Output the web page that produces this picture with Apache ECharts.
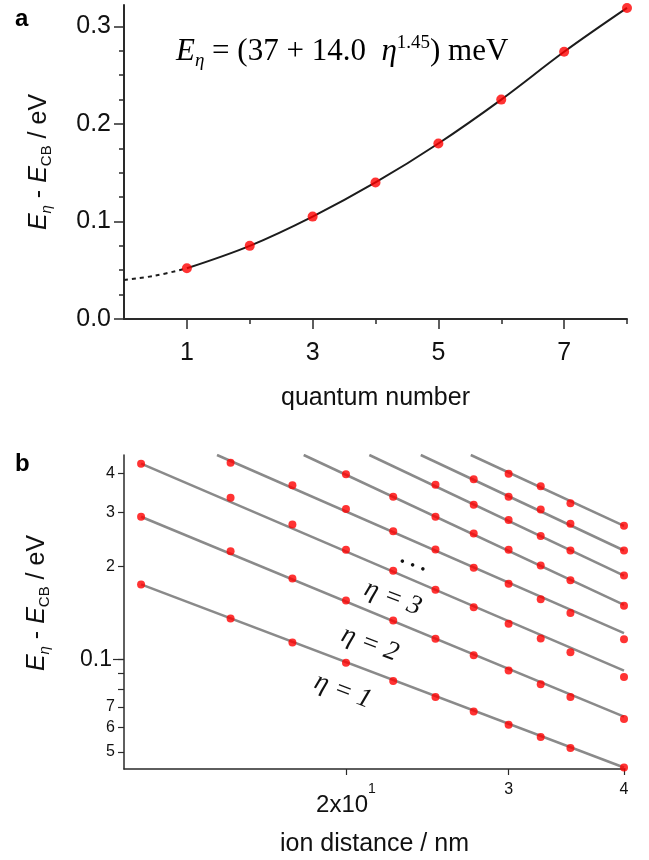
<!DOCTYPE html>
<html><head><meta charset="utf-8">
<script src="https://cdn.jsdelivr.net/npm/echarts@6/dist/echarts.min.js"></script>
<style>html,body{margin:0;padding:0;background:#fff}#c{width:649px;height:860px}</style>
</head><body><div id="c"></div>
<script>
// ---------- Panel a data ----------
const quantumNumbers = [1, 2, 3, 4, 5, 6, 7, 8];
const levelEnergies = [0.052, 0.075, 0.105, 0.140, 0.180, 0.225, 0.274, 0.319];
const extrapX = [0, 0.5, 1];
const extrapY = [0.040, 0.0445, 0.052];
const aXLabelTicks = [1, 3, 5, 7];
const aXMinorTicks = [2, 4, 6, 8];
const aYLabelTicks = [0, 0.1, 0.2, 0.3];
const aYMinorTicks = [0.025, 0.05, 0.075, 0.125, 0.15, 0.175, 0.225, 0.25, 0.275];

// ---------- Panel b data ----------
const distances = [12, 15, 17.5, 20, 22.5, 25, 27.5, 30, 32.5, 35, 40];
const eta1 = [0.1747, 0.1354, 0.1132, 0.0973, 0.0850, 0.0754, 0.0676, 0.0612, 0.0559, 0.0515, 0.0445];
const eta2 = [0.290, 0.224, 0.1827, 0.155, 0.1335, 0.1164, 0.1030, 0.0918, 0.0829, 0.0754, 0.0639];
const eta3 = [0.431, 0.334, 0.2735, 0.2264, 0.1935, 0.1679, 0.1475, 0.1302, 0.1166, 0.1054, 0.0876];
const eta4 = [null, 0.434, 0.367, 0.307, 0.260, 0.227, 0.198, 0.1756, 0.1566, 0.1411, 0.1161];
const eta5 = [null, null, null, 0.398, 0.337, 0.290, 0.256, 0.2264, 0.2013, 0.1805, 0.149];
const eta6 = [null, null, null, null, null, 0.368, 0.317, 0.283, 0.251, 0.2253, 0.1868];
const eta7 = [null, null, null, null, null, null, 0.384, 0.337, 0.306, 0.275, 0.2253];
const eta8 = [null, null, null, null, null, null, null, 0.400, 0.3645, 0.321, 0.271];
const etaSeries = [eta1, eta2, eta3, eta4, eta5, eta6, eta7, eta8];
// fitted power-law lines (start where visible, end at 40 nm)
const fitStartX = [12, 12, 12, 14.5, 18.0, 21.2, 24.1, 27.3];
const fitStartY = [0.175, 0.290, 0.431, 0.46, 0.46, 0.46, 0.46, 0.46];
const fitEndX = [40, 40, 40, 40, 40, 40, 40, 40];
const fitEndY = [0.0445, 0.0651, 0.0918, 0.1214, 0.150, 0.1868, 0.2253, 0.271];
const bYTicks = [0.05, 0.06, 0.07, 0.08, 0.09, 0.1, 0.2, 0.3, 0.4];
const bYLabels = [0.05, 0.06, 0.07, 0.1, 0.2, 0.3, 0.4];
const bYLongTick = [0.1];
const bXTicks = [20, 30, 40];

const SANS = "'Liberation Sans', Arial, Helvetica, sans-serif";
const SERIF = "'Liberation Serif', 'Times New Roman', serif";
const AX = '#2a2a2a';

const chart = echarts.init(document.getElementById('c'), null, {renderer: 'canvas'});

const yNameRich = {
  i: {fontFamily: SANS, fontStyle: 'italic', fontSize: 25, lineHeight: 30, color: '#111'},
  n: {fontFamily: SANS, fontSize: 25, lineHeight: 30, color: '#111'},
  s: {fontFamily: SANS, fontStyle: 'italic', fontSize: 15, lineHeight: 13, verticalAlign: 'bottom', color: '#111'},
  s2: {fontFamily: SANS, fontSize: 15, lineHeight: 13, verticalAlign: 'bottom', color: '#111'}
};
const yNameText = '{i|E}{s|η}{n| - }{i|E}{s2|CB}{n| / eV}';

const bDots = [];
etaSeries.forEach(arr => arr.forEach((v, i) => { if (v != null) bDots.push([distances[i], v]); }));

const series = [
  {type: 'line', xAxisIndex: 0, yAxisIndex: 0, data: extrapX.map((x, i) => [x, extrapY[i]]),
   smooth: 0.4, showSymbol: false, lineStyle: {color: '#1c1c1c', width: 2, type: [4, 4]}, z: 2},
  {type: 'line', xAxisIndex: 0, yAxisIndex: 0, data: quantumNumbers.map((x, i) => [x, levelEnergies[i]]),
   smooth: 0.35, showSymbol: false, lineStyle: {color: '#1c1c1c', width: 2}, z: 2},
  {type: 'scatter', xAxisIndex: 0, yAxisIndex: 0, data: quantumNumbers.map((x, i) => [x, levelEnergies[i]]),
   symbolSize: 10, itemStyle: {color: '#ff0000'}, z: 3, clip: false}
];
for (let k = 0; k < 8; k++) {
  series.push({type: 'line', xAxisIndex: 2, yAxisIndex: 1,
    data: [[fitStartX[k], fitStartY[k]], [fitEndX[k], fitEndY[k]]],
    showSymbol: false, lineStyle: {color: '#8a8a8a', width: 2.5}, z: 2});
}
series.push({type: 'scatter', xAxisIndex: 2, yAxisIndex: 1, data: bDots,
  symbolSize: 8, itemStyle: {color: '#ff0000'}, z: 3, clip: false});

const option = {
  animation: false,
  backgroundColor: '#fff',
  grid: [
    {left: 124, top: 5, width: 503, height: 314},
    {left: 124, top: 455, width: 501, height: 314}
  ],
  xAxis: [
    {gridIndex: 0, type: 'value', min: 0, max: 8, interval: 1, position: 'bottom',
     axisLine: {show: true, lineStyle: {color: AX, width: 2}},
     axisTick: {show: true, customValues: aXLabelTicks, length: 10, lineStyle: {color: AX, width: 1.5}},
     axisLabel: {customValues: aXLabelTicks, fontFamily: SANS, fontSize: 25, color: '#111', margin: 22},
     splitLine: {show: false},
     name: 'quantum number', nameLocation: 'middle', nameGap: 67,
     nameTextStyle: {fontFamily: SANS, fontSize: 25, color: '#111'}},
    {gridIndex: 0, type: 'value', min: 0, max: 8, interval: 1, position: 'bottom',
     axisLine: {show: false}, axisLabel: {show: false}, splitLine: {show: false},
     axisTick: {show: true, customValues: aXMinorTicks, length: 5, lineStyle: {color: AX, width: 1.5}}},
    {gridIndex: 1, type: 'log', logBase: 10, min: 11.5, max: 40.1, position: 'bottom',
     axisLine: {show: true, lineStyle: {color: AX, width: 1.5}},
     axisTick: {show: true, customValues: bXTicks, length: 6, lineStyle: {color: AX, width: 1.2}},
     axisLabel: {customValues: bXTicks, margin: 13, color: '#111',
       formatter: v => Math.abs(v - 20) < 1e-6 ? '{big|2x10}{sup|1}' : '{s|' + Math.round(v / 10) + '}',
       rich: {
         big: {fontFamily: SANS, fontSize: 24, lineHeight: 46, color: '#111'},
         sup: {fontFamily: SANS, fontSize: 14, lineHeight: 14, verticalAlign: 'top', color: '#111'},
         s: {fontFamily: SANS, fontSize: 16, lineHeight: 16, verticalAlign: 'top', color: '#111'}
       }},
     splitLine: {show: false}, minorTick: {show: false},
     name: 'ion distance / nm', nameLocation: 'middle', nameGap: 63,
     nameTextStyle: {fontFamily: SANS, fontSize: 25, color: '#111'}}
  ],
  yAxis: [
    {gridIndex: 0, type: 'value', min: 0, max: 0.322, interval: 0.1, position: 'left',
     axisLine: {show: true, lineStyle: {color: AX, width: 2}},
     axisTick: {show: true, customValues: aYLabelTicks, length: 10, lineStyle: {color: AX, width: 1.5}},
     axisLabel: {customValues: aYLabelTicks, formatter: v => v.toFixed(1), fontFamily: SANS, fontSize: 25, color: '#111', margin: 13},
     splitLine: {show: false},
     name: yNameText, nameLocation: 'middle', nameGap: 70, nameRotate: 90,
     nameTextStyle: {rich: yNameRich}},
    {gridIndex: 1, type: 'log', logBase: 10, min: 0.044, max: 0.46, position: 'left',
     axisLine: {show: true, lineStyle: {color: AX, width: 1.5}},
     axisTick: {show: true, customValues: bYTicks, length: 6, lineStyle: {color: AX, width: 1.2}},
     axisLabel: {customValues: bYLabels, margin: 9, color: '#111',
       formatter: v => Math.abs(v - 0.1) < 1e-9 ? '{big|0.1}' : '{s|' + (v < 0.1 ? Math.round(v * 100) : Math.round(v * 10)) + '}',
       rich: {
         big: {fontFamily: SANS, fontSize: 23, color: '#111', padding: [0, 3, 0, 0]},
         s: {fontFamily: SANS, fontSize: 16, color: '#111'}
       }},
     splitLine: {show: false}, minorTick: {show: false},
     name: yNameText, nameLocation: 'middle', nameGap: 72, nameRotate: 90,
     nameTextStyle: {rich: yNameRich, padding: [0, 0, 0, 18]}},
    {gridIndex: 1, type: 'log', logBase: 10, min: 0.044, max: 0.46, position: 'left', offset: 0,
     axisLine: {show: false}, axisLabel: {show: false}, splitLine: {show: false},
     axisTick: {show: true, customValues: bYLongTick, length: 11, lineStyle: {color: AX, width: 1.2}}},
    {gridIndex: 0, type: 'value', min: 0, max: 0.322, interval: 0.1, position: 'left', offset: 0,
     axisLine: {show: false}, axisLabel: {show: false}, splitLine: {show: false},
     axisTick: {show: true, customValues: aYMinorTicks, length: 5, lineStyle: {color: AX, width: 1.5}}}
  ],
  series: series,
  graphic: [
    {type: 'text', x: 15, y: 19, style: {text: 'a', font: "bold 24px " + SANS, fill: '#000', verticalAlign: 'middle'}},
    {type: 'text', x: 15, y: 464, style: {text: 'b', font: "bold 24px " + SANS, fill: '#000', verticalAlign: 'middle'}},
    {type: 'text', x: 176, y: 52, style: {
      text: '{i|E}{sub|η}{n| = (37 + 14.0  }{i|η}{sup|1.45}{n|) meV}',
      verticalAlign: 'middle', align: 'left',
      rich: {
        i: {fontFamily: SERIF, fontStyle: 'italic', fontSize: 31, lineHeight: 36, color: '#111'},
        n: {fontFamily: SERIF, fontSize: 31, lineHeight: 36, color: '#111'},
        sub: {fontFamily: SERIF, fontStyle: 'italic', fontSize: 19, lineHeight: 18, verticalAlign: 'bottom', color: '#111'},
        sup: {fontFamily: SERIF, fontSize: 19, lineHeight: 21, verticalAlign: 'top', color: '#111'}
      }}},
    {type: 'text', x: 343, y: 691, rotation: -0.36, style: {text: 'η = 1', font: "italic 27px " + SERIF, fill: '#111', align: 'center', verticalAlign: 'middle'}},
    {type: 'text', x: 370, y: 644, rotation: -0.36, style: {text: 'η = 2', font: "italic 27px " + SERIF, fill: '#111', align: 'center', verticalAlign: 'middle'}},
    {type: 'text', x: 393, y: 598, rotation: -0.36, style: {text: 'η = 3', font: "italic 27px " + SERIF, fill: '#111', align: 'center', verticalAlign: 'middle'}},
    {type: 'text', x: 414, y: 561, rotation: -0.36, style: {text: '. . .', font: "bold 22px " + SERIF, fill: '#111', align: 'center', verticalAlign: 'middle'}}
  ]
};
chart.setOption(option);
</script>
</body></html>
